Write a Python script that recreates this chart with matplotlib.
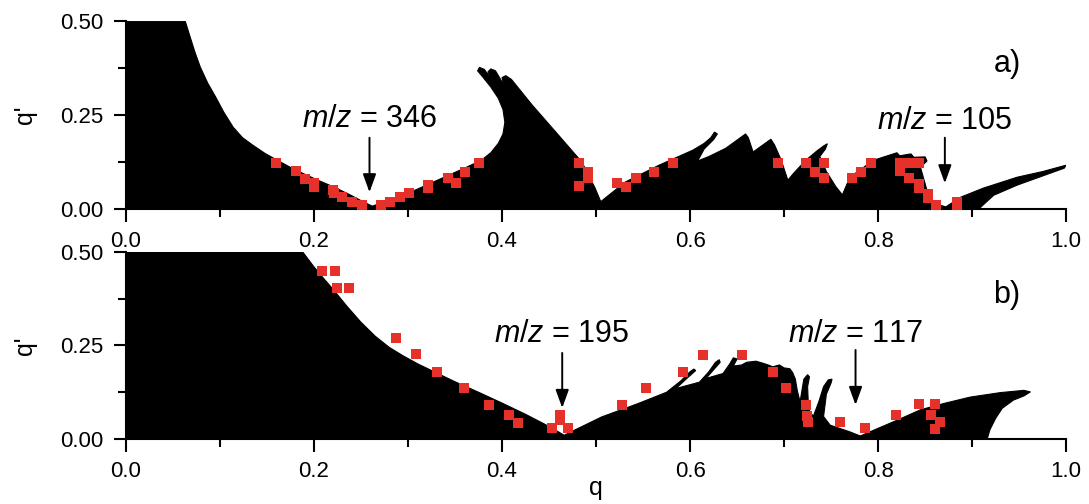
import matplotlib
matplotlib.use("Agg")
import matplotlib.pyplot as plt

plt.rcParams['font.family'] = ['Liberation Sans', 'DejaVu Sans']
plt.rcParams['mathtext.fontset'] = 'custom'
plt.rcParams['mathtext.rm'] = 'Liberation Sans'
plt.rcParams['mathtext.it'] = 'Liberation Sans:italic'

# outline of the black stability region, panel a)
a_edge_q = [0.0, 0.0, 0.063, 0.068, 0.073, 0.079, 0.087, 0.095, 0.104, 0.114, 0.124, 0.135,
            0.148, 0.161, 0.175, 0.19, 0.205, 0.221, 0.24, 0.252, 0.262,
            0.271, 0.29, 0.307, 0.325, 0.343, 0.36, 0.378, 0.388, 0.396, 0.401, 0.403,
            0.401, 0.396, 0.388, 0.38, 0.374, 0.376, 0.381, 0.392, 0.385, 0.388, 0.393,
            0.402, 0.4, 0.404, 0.41, 0.432, 0.46, 0.485, 0.499, 0.505,
            0.531, 0.567, 0.603, 0.615, 0.622, 0.626, 0.629, 0.625, 0.615, 0.608,
            0.62, 0.638, 0.659, 0.662, 0.667, 0.686, 0.69, 0.697, 0.704, 0.71, 0.723, 0.735,
            0.742, 0.746, 0.744, 0.738, 0.745, 0.755, 0.762,
            0.77, 0.795, 0.82, 0.823, 0.835, 0.838, 0.85, 0.852, 0.845, 0.852, 0.859, 0.872,
            0.888, 0.912, 0.948, 0.975, 1.0, 0.998, 0.948, 0.923, 0.909, 0.909]
a_edge_qp = [0.0, 0.5, 0.5, 0.46, 0.42, 0.378, 0.335, 0.3, 0.258, 0.218, 0.19, 0.17,
             0.148, 0.13, 0.111, 0.093, 0.076, 0.059, 0.036, 0.02, 0.008,
             0.016, 0.033, 0.05, 0.07, 0.09, 0.109, 0.13, 0.15, 0.175, 0.2, 0.231,
             0.265, 0.295, 0.325, 0.35, 0.368, 0.377, 0.372, 0.335, 0.365, 0.373, 0.368,
             0.33, 0.35, 0.355, 0.345, 0.277, 0.197, 0.125, 0.056, 0.02,
             0.072, 0.117, 0.157, 0.175, 0.19, 0.205, 0.2, 0.185, 0.16, 0.128,
             0.14, 0.162, 0.2, 0.19, 0.152, 0.186, 0.17, 0.13, 0.077, 0.095, 0.13, 0.155,
             0.168, 0.174, 0.16, 0.14, 0.1, 0.06, 0.038,
             0.085, 0.13, 0.15, 0.142, 0.147, 0.138, 0.139, 0.128, 0.112, 0.05, 0.016, 0.006,
             0.032, 0.056, 0.085, 0.1, 0.117, 0.109, 0.064, 0.037, 0.005, 0.0]

# outline of the black stability region, panel b)
b_edge_q = [0.0, 0.0, 0.188, 0.2, 0.21, 0.221, 0.235, 0.25, 0.265, 0.28, 0.295, 0.311, 0.33,
            0.35, 0.375, 0.4, 0.425, 0.445, 0.458, 0.466,
            0.506, 0.545, 0.575, 0.59, 0.6, 0.604, 0.606, 0.597, 0.585, 0.61,
            0.62, 0.627, 0.631, 0.632, 0.625, 0.617, 0.635, 0.642, 0.646, 0.65, 0.646,
            0.655, 0.66, 0.67, 0.677, 0.683, 0.688, 0.695, 0.7, 0.706, 0.709, 0.712, 0.714,
            0.717, 0.719, 0.721, 0.725, 0.727, 0.725, 0.726, 0.731, 0.737, 0.742, 0.747,
            0.751, 0.75, 0.745, 0.742, 0.749, 0.77, 0.781,
            0.82, 0.845, 0.87, 0.898, 0.93, 0.955, 0.962, 0.955, 0.944, 0.932, 0.925,
            0.919, 0.916]
b_edge_qp = [0.0, 0.5, 0.5, 0.46, 0.43, 0.398, 0.355, 0.312, 0.275, 0.245, 0.222, 0.2, 0.177,
             0.153, 0.125, 0.096, 0.066, 0.04, 0.022, 0.01,
             0.059, 0.095, 0.125, 0.155, 0.18, 0.187, 0.183, 0.163, 0.135, 0.152,
             0.18, 0.205, 0.212, 0.205, 0.185, 0.162, 0.175, 0.2, 0.217, 0.214, 0.195,
             0.198, 0.205, 0.208, 0.203, 0.198, 0.193, 0.198, 0.19, 0.188, 0.178, 0.16, 0.13,
             0.099, 0.13, 0.16, 0.172, 0.166, 0.14, 0.08, 0.06, 0.1, 0.14, 0.158,
             0.16, 0.15, 0.12, 0.06, 0.037, 0.019, 0.008,
             0.05, 0.078, 0.095, 0.112, 0.124, 0.13, 0.126, 0.115, 0.104, 0.082, 0.055,
             0.025, 0.0]

# measured points (red squares)
a_pts_q = [0.16, 0.181, 0.19, 0.2, 0.2, 0.22, 0.221, 0.23, 0.24, 0.251, 0.271, 0.281, 0.291,
           0.301, 0.321, 0.321, 0.342, 0.351, 0.361, 0.376, 0.482, 0.491, 0.491, 0.482, 0.522,
           0.532, 0.542, 0.562, 0.582, 0.693, 0.723, 0.733, 0.742, 0.742, 0.772, 0.782, 0.792,
           0.823, 0.823, 0.833, 0.843, 0.833, 0.843, 0.843, 0.853, 0.853, 0.862, 0.884, 0.884]
a_pts_qp = [0.122, 0.101, 0.08, 0.069, 0.059, 0.05, 0.044, 0.032, 0.019, 0.011, 0.011, 0.019,
            0.032, 0.042, 0.064, 0.055, 0.082, 0.069, 0.098, 0.122, 0.122, 0.098, 0.082, 0.061,
            0.069, 0.059, 0.082, 0.098, 0.122, 0.122, 0.122, 0.098, 0.122, 0.082, 0.082, 0.098,
            0.122, 0.122, 0.101, 0.122, 0.122, 0.082, 0.066, 0.055, 0.04, 0.03, 0.011, 0.019, 0.011]

b_pts_q = [0.209, 0.222, 0.224, 0.237, 0.287, 0.309, 0.331, 0.359, 0.386, 0.407, 0.417, 0.453,
           0.462, 0.462, 0.47, 0.528, 0.553, 0.592, 0.614, 0.655, 0.688, 0.702, 0.723, 0.724,
           0.725, 0.76, 0.786, 0.819, 0.843, 0.861, 0.856, 0.866, 0.861]
b_pts_qp = [0.449, 0.449, 0.404, 0.404, 0.27, 0.227, 0.179, 0.136, 0.091, 0.064, 0.043, 0.029,
            0.064, 0.05, 0.029, 0.091, 0.136, 0.179, 0.225, 0.225, 0.179, 0.136, 0.091, 0.062,
            0.045, 0.045, 0.029, 0.064, 0.094, 0.094, 0.064, 0.045, 0.027]

# m/z annotations: label, q position, text height, arrow start, arrow tip
a_notes = [("346", 0.259, 0.24, 0.19, 0.045), ("105", 0.871, 0.234, 0.19, 0.069)]
b_notes = [("195", 0.464, 0.281, 0.23, 0.083), ("117", 0.776, 0.281, 0.238, 0.091)]

red = '#e6312a'

fig = plt.figure(figsize=(10.89, 5.04), dpi=100)
ax_a = fig.add_axes([0.1157, 0.585, 0.8633, 0.373])
ax_b = fig.add_axes([0.1157, 0.129, 0.8633, 0.371])

panels = [(ax_a, a_edge_q, a_edge_qp, a_pts_q, a_pts_qp, a_notes, "a)"),
          (ax_b, b_edge_q, b_edge_qp, b_pts_q, b_pts_qp, b_notes, "b)")]

for ax, eq, eqp, pq, pqp, notes, tag in panels:
    ax.fill(eq, eqp, color='k', lw=0.8, zorder=1)
    ax.plot(pq, pqp, 's', color=red, ms=6.5, mew=0, zorder=3)
    for lab, q, ty, y0, y1 in notes:
        ax.text(q, ty, r"$\mathit{m/z}$ = " + lab, fontsize=22, ha='center', va='center')
        ax.annotate('', xy=(q, y1), xytext=(q, y0),
                    arrowprops=dict(arrowstyle='-|>,head_length=0.55,head_width=0.2',
                                    color='k', lw=1.4, mutation_scale=20, shrinkA=0, shrinkB=0))
    ax.text(0.937, 0.386, tag, fontsize=22, ha='center', va='center')

    ax.set_xlim(0, 1)
    ax.set_ylim(0, 0.5)
    ax.set_xticks([0.0, 0.2, 0.4, 0.6, 0.8, 1.0])
    ax.set_xticks([0.1, 0.3, 0.5, 0.7, 0.9], minor=True)
    ax.set_yticks([0.0, 0.25, 0.5])
    ax.set_yticks([0.125, 0.375], minor=True)
    ax.set_xticklabels(["0.0", "0.2", "0.4", "0.6", "0.8", "1.0"])
    ax.set_yticklabels(["0.00", "0.25", "0.50"])
    ax.spines['top'].set_visible(False)
    ax.spines['right'].set_visible(False)
    ax.spines['left'].set_linewidth(1.5)
    ax.spines['bottom'].set_linewidth(1.5)
    ax.tick_params(which='major', length=9, width=1.5, labelsize=16, pad=7)
    ax.tick_params(which='minor', length=5.5, width=1.5)
    ax.set_ylabel("q'", fontsize=18)
    ax.yaxis.set_label_coords(-0.095, 0.5)

ax_b.set_xlabel("q", fontsize=18)
ax_b.xaxis.set_label_coords(0.5, -0.2)

plt.savefig("out.png", dpi=100)
